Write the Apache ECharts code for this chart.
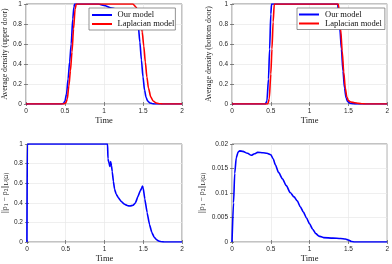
<!DOCTYPE html>
<html><head><meta charset="utf-8">
<script src="https://cdn.jsdelivr.net/npm/echarts@6/dist/echarts.min.js"></script>
<style>html,body{margin:0;padding:0;background:#fff}#c{width:392px;height:264px}</style>
</head><body><div id="c"></div>
<script>
// Panel 1: upper door
const upperOurT = [0,0.45,0.48,0.5,0.52,0.54,0.56,0.58,0.6,0.615,0.625,0.93,1.0,1.1,1.2,1.3,1.38,1.42,1.44,1.46,1.48,1.5,1.52,1.54,1.56,1.59,1.62,1.65,2];
const upperOurV = [0,0,0.005,0.03,0.1,0.25,0.42,0.6,0.85,0.97,1,1,0.985,0.96,0.94,0.915,0.88,0.84,0.78,0.62,0.44,0.27,0.14,0.065,0.03,0.01,0.003,0,0];
const upperLapT = [0,0.48,0.51,0.53,0.55,0.57,0.59,0.61,0.63,0.645,1.37,1.41,1.44,1.47,1.49,1.51,1.53,1.55,1.57,1.6,1.63,1.67,1.72,1.75,2];
const upperLapV = [0,0,0.01,0.05,0.18,0.33,0.52,0.75,0.95,1,1,0.97,0.92,0.84,0.72,0.58,0.42,0.27,0.16,0.07,0.03,0.01,0.002,0,0];
// Panel 2: bottom door
const bottomOurT = [0,0.43,0.45,0.47,0.485,0.5,0.51,1.36,1.375,1.39,1.41,1.43,1.45,1.47,1.49,1.52,1.56,1.6,2];
const bottomOurV = [0,0,0.03,0.25,0.55,0.9,1,1,0.92,0.75,0.55,0.33,0.16,0.06,0.025,0.008,0.002,0,0];
const bottomLapT = [0,0.46,0.48,0.5,0.515,0.53,0.545,1.37,1.385,1.4,1.42,1.44,1.46,1.48,1.5,1.53,1.58,1.63,1.68,1.72,2];
const bottomLapV = [0,0,0.05,0.3,0.55,0.82,1,1,0.9,0.75,0.53,0.32,0.16,0.07,0.035,0.02,0.013,0.006,0.002,0,0];
// Panel 3: difference, upper
const diffUpT = [0,0.005,1.04,1.045,1.06,1.07,1.08,1.09,1.1,1.115,1.13,1.15,1.18,1.22,1.26,1.3,1.33,1.37,1.4,1.43,1.46,1.48,1.49,1.5,1.52,1.55,1.58,1.61,1.64,1.67,1.7,1.74,1.77,2];
const diffUpV = [0,1,1,0.85,0.8,0.77,0.82,0.78,0.72,0.62,0.54,0.49,0.45,0.41,0.385,0.37,0.367,0.375,0.4,0.46,0.52,0.55,0.57,0.55,0.44,0.3,0.18,0.1,0.05,0.025,0.01,0.002,0,0];
// Panel 4: difference, bottom
const diffBotT = [0,0.02,0.035,0.055,0.08,0.1,0.14,0.2,0.25,0.29,0.33,0.4,0.45,0.5,0.53,0.56,0.6,0.65,0.7,0.75,0.8,0.84,0.88,0.92,0.96,1.0,1.04,1.08,1.12,1.18,1.3,1.4,1.46,1.5,1.54,1.58,2];
const diffBotV = [0,0.008,0.014,0.0172,0.0184,0.0186,0.0185,0.0181,0.0177,0.018,0.0183,0.0182,0.0181,0.0178,0.017,0.0157,0.0142,0.0129,0.0115,0.0101,0.0092,0.0084,0.0072,0.0061,0.0049,0.0037,0.0026,0.0017,0.0012,0.0009,0.0008,0.0007,0.0006,0.0004,0.0001,0,0];

const xTicks = {min:0,max:2,interval:0.5};
const yTicksDensity = {min:0,max:1,interval:0.2};
const yTicksDiffBot = {min:0,max:0.02,interval:0.005};

const zip = (t,v) => t.map((x,i)=>[x,v[i]]);
const BLUE = '#0000ff', RED = '#ff0000';
const serif = 'Liberation Serif';
const sans = 'Liberation Sans';
const tickColor = '#262626';

const grids = [
  {left:23, top:4, width:159, height:100},
  {left:232, top:4, width:157, height:100},
  {left:24, top:144, width:158, height:100},
  {left:232, top:144, width:157, height:100}
].map(g => Object.assign(g, {show:true, borderColor:'#555', borderWidth:0.7, backgroundColor:'#fff', containLabel:false}));

const xAxes = [], yAxes = [];
const yRanges = [yTicksDensity, yTicksDensity, yTicksDensity, yTicksDiffBot];
const yNames = [
  'Average density (upper door)',
  'Average density (bottom door)',
  '||ρ{s|1} − ρ{s|2}||{s|L²(Ω)}',
  '||ρ{s|1} − ρ{s|2}||{s|L²(Ω)}'
];
const yGaps = [13, 19, 16, 25];
for (let i = 0; i < 4; i++) {
  xAxes.push({
    type:'value', gridIndex:i, min:xTicks.min, max:xTicks.max, interval:xTicks.interval,
    name:'Time', nameLocation:'middle', nameGap:12,
    nameTextStyle:{fontFamily:serif, fontSize:8.5, color:'#222'},
    axisLine:{show:false}, axisTick:{show:true, inside:true, length:2, lineStyle:{color:'#555', width:0.7}},
    axisLabel:{fontFamily:sans, fontSize:6.5, color:tickColor, margin:4},
    splitLine:{show:true, lineStyle:{color:'#e8e8e8', width:0.7}}
  });
  xAxes.push({
    type:'value', gridIndex:i, position:'top', min:xTicks.min, max:xTicks.max, interval:xTicks.interval,
    axisLine:{show:false}, axisTick:{show:true, inside:true, length:2, lineStyle:{color:'#555', width:0.7}},
    axisLabel:{show:false}, splitLine:{show:false}
  });
  const yr = yRanges[i];
  yAxes.push({
    type:'value', gridIndex:i, min:yr.min, max:yr.max, interval:yr.interval,
    name:yNames[i], nameLocation:'middle', nameGap:yGaps[i], nameRotate:90,
    nameTextStyle:{fontFamily:serif, fontSize:7.8, color:'#222',
      rich:{s:{fontFamily:serif, fontSize:5.5, color:'#222', verticalAlign:'bottom', padding:[4,0,0,0]}}},
    axisLine:{show:false}, axisTick:{show:true, inside:true, length:2, lineStyle:{color:'#555', width:0.7}},
    axisLabel:{fontFamily:sans, fontSize:6.5, color:tickColor, margin:4},
    splitLine:{show:true, lineStyle:{color:'#e8e8e8', width:0.7}}
  });
  yAxes.push({
    type:'value', gridIndex:i, position:'right', min:yr.min, max:yr.max, interval:yr.interval,
    axisLine:{show:false}, axisTick:{show:true, inside:true, length:2, lineStyle:{color:'#555', width:0.7}},
    axisLabel:{show:false}, splitLine:{show:false}
  });
}

function line(name, xi, yi, data, color) {
  return {name, type:'line', xAxisIndex:xi, yAxisIndex:yi, data, showSymbol:false, symbol:'none',
    smooth:0.25, smoothMonotone:'x', lineStyle:{color, width:1.6}, itemStyle:{color}, animation:false, z:3};
}

const series = [
  line('Our model', 0, 0, zip(upperOurT, upperOurV), BLUE),
  line('Laplacian model', 0, 0, zip(upperLapT, upperLapV), RED),
  line('Our model', 2, 2, zip(bottomOurT, bottomOurV), BLUE),
  line('Laplacian model', 2, 2, zip(bottomLapT, bottomLapV), RED),
  line('diff1', 4, 4, zip(diffUpT, diffUpV), BLUE),
  line('diff2', 6, 6, zip(diffBotT, diffBotV), BLUE)
];
series[4].smooth = 0.1;

const legendBase = {
  orient:'vertical', itemGap:0, itemWidth:22, itemHeight:2,
  icon:'path://M0,0H20V2H0Z',
  backgroundColor:'#fff', borderColor:'#666', borderWidth:0.7, borderRadius:0,
  textStyle:{fontFamily:serif, fontSize:8.5, color:'#111', lineHeight:9},
  data:['Our model','Laplacian model'], selectedMode:false
};
const legends = [
  Object.assign({}, legendBase, {left:89, top:8, padding:[2.5,1,1.5,3], itemWidth:21}),
  Object.assign({}, legendBase, {left:297, top:8, padding:[2,3,1.5,2]})
];

const chart = echarts.init(document.getElementById('c'), null, {renderer:'canvas'});
chart.setOption({
  backgroundColor:'#fff', animation:false,
  grid:grids, xAxis:xAxes, yAxis:yAxes, legend:legends, series
});
</script></body></html>
